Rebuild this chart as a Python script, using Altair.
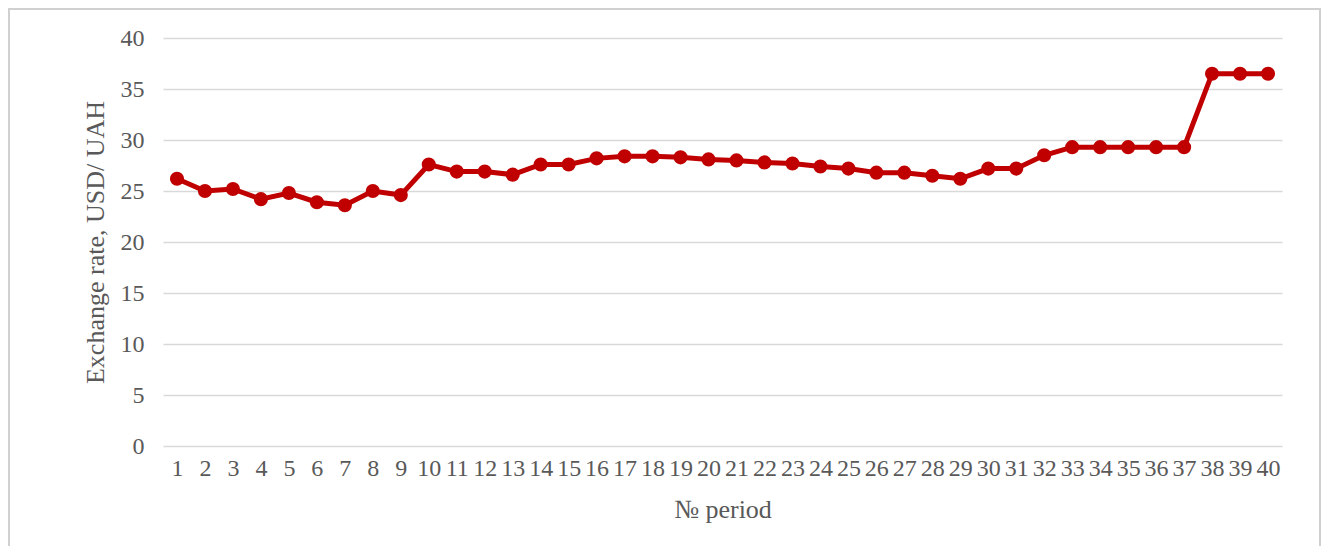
import altair as alt
import pandas as pd

periods = list(range(1, 41))
rates = [26.2, 25.0, 25.2, 24.2, 24.8, 23.9, 23.6, 25.0, 24.6, 27.6,
         26.9, 26.9, 26.6, 27.6, 27.6, 28.2, 28.4, 28.4, 28.3, 28.1,
         28.0, 27.8, 27.7, 27.4, 27.2, 26.8, 26.8, 26.5, 26.2, 27.2,
         27.2, 28.5, 29.3, 29.3, 29.3, 29.3, 29.3, 36.5, 36.5, 36.5]

df = pd.DataFrame({"period": periods, "rate": rates})

W, H = 1119, 408
PL, PT, PR, PB = 155, 30, 42, 100
FONT = "Liberation Serif"
TXT = "#595959"
RED = "#C00000"

base = alt.Chart(df).encode(
    x=alt.X("period:O", sort=periods,
            axis=alt.Axis(title="№ period", labelAngle=0, grid=False, ticks=False,
                          domain=False, labelPadding=10, titlePadding=16)),
    y=alt.Y("rate:Q", scale=alt.Scale(domain=[0, 40], nice=False),
            axis=alt.Axis(title="Exchange rate, USD/ UAH", values=list(range(0, 45, 5)),
                          grid=True, ticks=False, domain=False, labelPadding=19,
                          titlePadding=12)),
)

line = base.mark_line(color=RED, strokeWidth=5)
pts = base.mark_point(color=RED, filled=True, opacity=1, size=200)

frame = alt.Chart(df).mark_rect(fill=None, stroke="#d0d0d0", strokeWidth=2).encode(
    x=alt.value(-PL + 1), x2=alt.value(W + PR - 4),
    y=alt.value(-PT + 1), y2=alt.value(H + PB + 20),
)

chart = alt.layer(frame, line, pts).properties(
    width=W, height=H,
    autosize=alt.AutoSizeParams(type="none"),
    padding={"left": PL, "top": PT, "right": PR, "bottom": PB},
).configure_view(stroke=None).configure_axis(
    labelFont=FONT, titleFont=FONT, labelFontSize=24, titleFontSize=26,
    labelColor=TXT, titleColor=TXT, titleFontWeight="normal",
    gridColor="#d9d9d9", gridWidth=1.5,
)

chart.save("out.html", embed_options={"renderer": "svg", "actions": False})
